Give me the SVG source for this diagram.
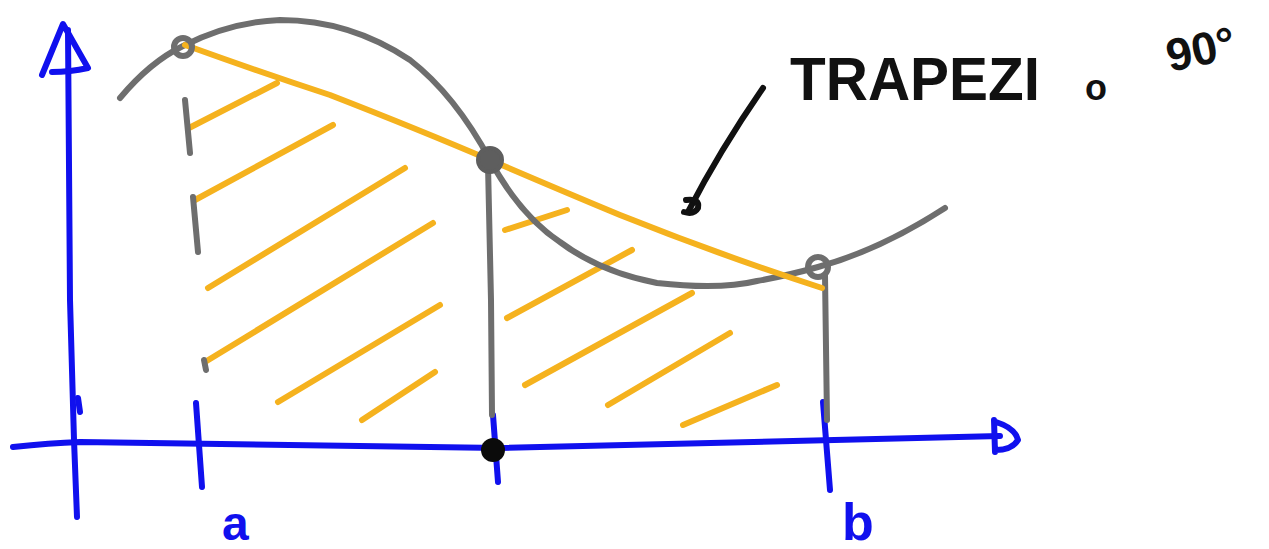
<svg xmlns="http://www.w3.org/2000/svg" width="1269" height="549" viewBox="0 0 1269 549">
<style>
.ax{fill:none;stroke:#1010ee;stroke-width:6;stroke-linecap:round;stroke-linejoin:round}
.cv{fill:none;stroke:#6e6e6e;stroke-width:6;stroke-linecap:round;stroke-linejoin:round}
.tr{fill:none;stroke:#f5b21e;stroke-width:6;stroke-linecap:round;stroke-linejoin:round}
.ink{fill:none;stroke:#111;stroke-width:6;stroke-linecap:round}
.lbl{font-family:"Liberation Sans",Arial,sans-serif;font-weight:bold}
</style>
<rect width="1269" height="549" fill="#fff"/>
<g id="axes">
<path class="ax" d="M77,517 L74,440 L70,300 L68,30"/>
<path class="ax" d="M42,75 L63,24 L88,68 Q70,72 52,72"/>
<path class="ax" d="M13,447 Q50,443 80,442 L500,448 L1000,436"/>
<path class="ax" d="M994,420 L995,452 M996,422 Q1015,428 1018,440 Q1012,450 996,450"/>
<path class="ax" d="M78,398 L80,412"/>
<path class="ax" d="M196,403 L202,487"/>
<path class="ax" d="M493,415 L498,482"/>
<path class="ax" d="M823,402 L830,490"/>
</g>
<g id="hatching">
<path class="tr" d="M189,128 L277,83"/>
<path class="tr" d="M195,200 L333,125"/>
<path class="tr" d="M208,288 L405,168"/>
<path class="tr" d="M205,362 L433,223"/>
<path class="tr" d="M278,402 L440,305"/>
<path class="tr" d="M362,420 L435,372"/>
<path class="tr" d="M505,230 L567,210"/>
<path class="tr" d="M507,318 L632,250"/>
<path class="tr" d="M525,385 L692,293"/>
<path class="tr" d="M608,405 L730,333"/>
<path class="tr" d="M683,425 L777,385"/>
</g>
<g id="function-curve">
<path class="cv" d="M120,98 Q150,62 183,46 Q230,22 280,20 Q350,20 410,60 Q455,95 490,160 Q520,215 560,242 Q600,272 657,283 Q720,290 757,281 Q790,275 818,267 Q880,250 945,208"/>
<path class="cv" d="M185,100 L190,153 M193,197 L198,252 M204,360 L206,370"/>
<path class="cv" d="M488,165 L491,300 L492,415"/>
<path class="cv" d="M825,275 L827,420"/>
</g>
<g id="trapezoid-top">
<path class="tr" d="M185,45 Q260,72 330,95 Q420,130 490,160 Q560,190 620,215 Q720,255 822,288"/>
</g>
<g id="points">
<circle cx="183" cy="47" r="9" fill="none" stroke="#6e6e6e" stroke-width="6"/>
<circle cx="490" cy="160" r="12" fill="#5e5e5e" stroke="#5e5e5e" stroke-width="4"/>
<circle cx="818" cy="267" r="10" fill="none" stroke="#6e6e6e" stroke-width="6"/>
<circle cx="493" cy="450" r="12" fill="#0b0b0b"/>
</g>
<g id="labels">
<text class="lbl" x="222" y="540" font-size="48" fill="#1010ee">a</text>
<text class="lbl" x="842" y="540" font-size="52" fill="#1010ee">b</text>
<text class="lbl" x="790" y="100" font-size="62" fill="#111" textLength="250" lengthAdjust="spacingAndGlyphs">TRAPEZI</text>
<text class="lbl" x="1085" y="100" font-size="36" fill="#111">o</text>
<text class="lbl" x="1170" y="72" font-size="46" fill="#111" transform="rotate(-12 1170 72)">90°</text>
</g>
<g id="leader">
<path class="ink" d="M763,88 Q720,150 688,212"/>
<path class="ink" d="M686,200 Q700,198 698,208 Q694,215 684,212"/>
</g>
</svg>
